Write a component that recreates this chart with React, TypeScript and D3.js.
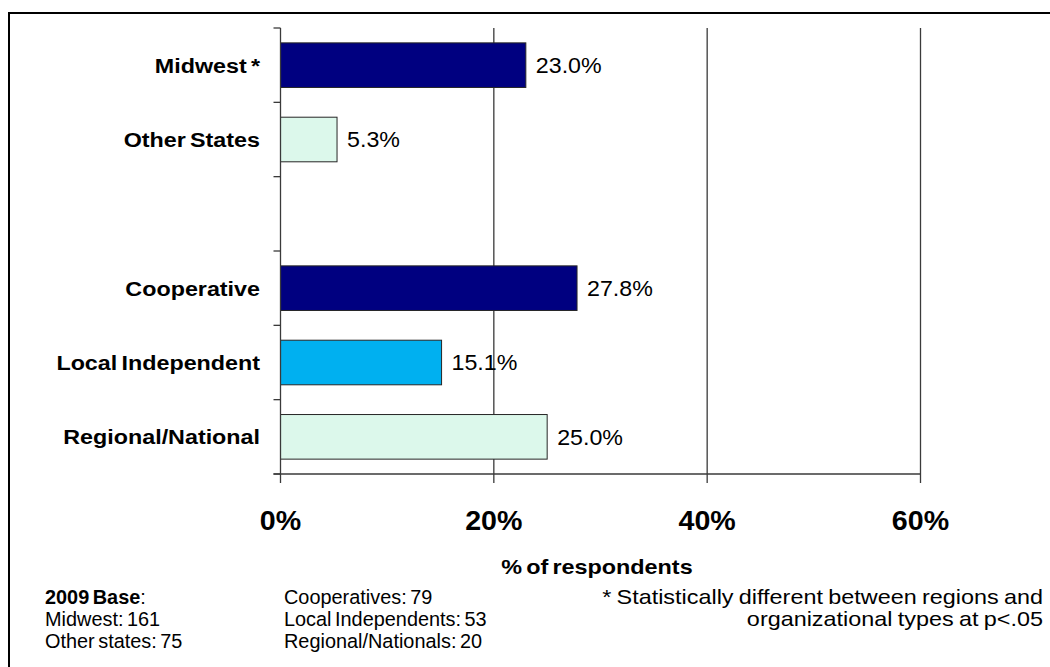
import React from "react";
import * as d3 from "d3";

const categories = ["Midwest *", "Other States", "", "Cooperative", "Local Independent", "Regional/National"];
const values: (number | null)[] = [23.0, 5.3, null, 27.8, 15.1, 25.0];
const fills = ["#000080", "#DCF8EB", "none", "#000080", "#00B0F0", "#DCF8EB"];
const xTicks = [0, 20, 40, 60];
const axisTitle = "% of respondents";
const baseCol1 = ["Midwest: 161", "Other states: 75"];
const baseCol2 = ["Cooperatives: 79", "Local Independents: 53", "Regional/Nationals: 20"];
const noteLines = ["* Statistically different between regions and", "organizational types at p<.05"];

const W = 1050;
const H = 667;
const FONT = "'Liberation Sans', Arial, sans-serif";

type TProps = {
  x: number;
  y: number;
  sx?: number;
  size: number;
  bold?: boolean;
  anchor?: "start" | "middle" | "end";
  ws?: number;
  children: React.ReactNode;
};

function T({ x, y, sx = 1.1, size, bold, anchor = "start", ws = 0, children }: TProps) {
  return (
    <text
      transform={`translate(${x},${y}) scale(${sx},1)`}
      fontSize={size}
      fontWeight={bold ? "bold" : "normal"}
      textAnchor={anchor}
      wordSpacing={ws}
      fill="#000"
    >
      {children}
    </text>
  );
}

export default function App() {
  const left = 280.5;
  const right = 920.5;
  const top = 28;
  const bottom = 474;
  const x = d3.scaleLinear().domain([0, 60]).range([left, right]);
  const y = d3
    .scaleBand<number>()
    .domain(d3.range(categories.length))
    .range([top, bottom])
    .paddingInner(0.4)
    .paddingOuter(0.2);
  const step = y.step();
  const boundaries = d3.range(categories.length + 1).map((i) => top + i * step);
  const axisColor = "#3a3a3a";
  const rowY = [604, 626, 648];

  return (
    <svg width={W} height={H} style={{ position: "fixed", left: 0, top: 0, background: "#fff" }} fontFamily={FONT}>
      <rect x={0} y={0} width={W} height={H} fill="#fff" />
      <rect x={9} y={13} width={W + 20} height={H + 20} fill="none" stroke="#000" strokeWidth={2} />

      {xTicks
        .filter((t) => t > 0)
        .map((t) => (
          <line key={"g" + t} x1={x(t)} x2={x(t)} y1={top} y2={bottom} stroke={axisColor} strokeWidth={1.3} />
        ))}

      {values.map((v, i) =>
        v == null ? null : (
          <rect
            key={"b" + i}
            x={x(0)}
            y={y(i)!}
            width={x(v) - x(0)}
            height={y.bandwidth()}
            fill={fills[i]}
            stroke="#262626"
            strokeWidth={1}
          />
        )
      )}

      {values.map((v, i) =>
        v == null ? null : (
          <T key={"v" + i} x={x(v) + 10} y={y(i)! + y.bandwidth() / 2 + 7.7} size={21.5} sx={1.08}>
            {v.toFixed(1) + "%"}
          </T>
        )
      )}

      <line x1={left} x2={left} y1={top} y2={bottom} stroke={axisColor} strokeWidth={1.3} />
      {boundaries.map((b, i) => (
        <line key={"yt" + i} x1={left - 7} x2={left} y1={b} y2={b} stroke={axisColor} strokeWidth={1.3} />
      ))}
      {categories.map((c, i) =>
        c ? (
          <T key={"c" + i} x={260} y={y(i)! + y.bandwidth() / 2 + 7.5} size={21} bold anchor="end" sx={1.11} ws={-2}>
            {c}
          </T>
        ) : null
      )}

      <line x1={left - 7} x2={right} y1={bottom} y2={bottom} stroke={axisColor} strokeWidth={1.3} />
      {xTicks.map((t) => (
        <g key={"xt" + t}>
          <line x1={x(t)} x2={x(t)} y1={bottom} y2={bottom + 9} stroke={axisColor} strokeWidth={1.3} />
          <T x={x(t)} y={530} size={27} bold anchor="middle" sx={1.06}>
            {t + "%"}
          </T>
        </g>
      ))}
      <T x={597} y={574} size={19.5} bold anchor="middle" sx={1.2} ws={-2}>
        {axisTitle}
      </T>

      <T x={45} y={rowY[0]} size={19.5} sx={1.02} ws={-2}>
        <tspan fontWeight="bold">2009 Base</tspan>:
      </T>
      {baseCol1.map((s, i) => (
        <T key={"f1" + i} x={45} y={rowY[i + 1]} size={19.5} sx={1.02} ws={-2}>
          {s}
        </T>
      ))}
      {baseCol2.map((s, i) => (
        <T key={"f2" + i} x={284} y={rowY[i]} size={19.5} sx={1.02} ws={-2}>
          {s}
        </T>
      ))}
      {noteLines.map((s, i) => (
        <T key={"n" + i} x={1043} y={rowY[i]} size={20} anchor="end" sx={1.17} ws={-1}>
          {s}
        </T>
      ))}
    </svg>
  );
}
